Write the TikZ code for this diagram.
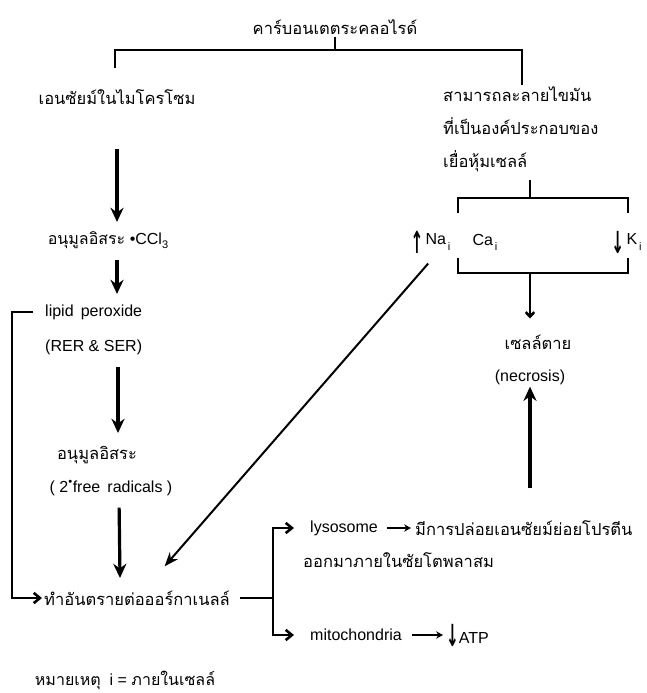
\documentclass[tikz,border=0pt]{standalone}
\usepackage{fontspec}
\setmainfont{Liberation Sans}
\newfontfamily\thaifont[Script=Thai]{Loma}
\newfontfamily\symfont{DejaVu Sans}
\usetikzlibrary{positioning,arrows.meta}

\newcommand{\lowi}{\raisebox{-0.6ex}{\fontsize{11}{12}\selectfont\,i}}
\newcommand{\uparr}{\raisebox{-0.35ex}{\scalebox{0.95}[1.9]{\symfont\bfseries ↑}}}
\newcommand{\dnarr}{\raisebox{-0.35ex}{\scalebox{0.95}[1.9]{\symfont\bfseries ↓}}}

\begin{document}
\begin{tikzpicture}[x=1pt, y=-1pt,
      /tikz/font=\fontsize{16}{19}\selectfont,
      txt/.style={inner sep=2pt},
      th/.style={inner sep=2pt, font=\fontsize{16.5}{19}\selectfont\thaifont},
      ln/.style={line width=2.6pt},
      bigarr/.style={-{Stealth[length=5mm, width=4.6mm]}, line width=3.2pt},
      thinarr/.style={-{Stealth[length=5mm, width=3.8mm]}, line width=2pt},
      hookarr/.style={-{Straight Barb[length=2.2mm, width=3.6mm]}, line width=2.6pt},
      smallarr/.style={-{Stealth[length=2.4mm, width=2.6mm]}, line width=1.6pt},
    ]
    \useasboundingbox (0,0) rectangle (647,693);

    % carbon tetrachloride and its two branches
    \node[th] (ccl4) at (335,27) {คาร์บอนเตตระคลอไรด์};
    \coordinate (barL) at (115,50);
    \coordinate (barR) at (522,50);
    \draw[ln] (ccl4.south) -- (ccl4.south |- barL);
    \draw[ln] (barL) ++(0,18) -- (barL) -- (barR) -- ++(0,35);

    \node[th] (enz) at (117,97) {เอนซัยม์ในไมโครโซม};
    \node[th, anchor=north west, align=left, font=\fontsize{16.5}{33}\selectfont\thaifont]
      (solv) at (441,84) {สามารถละลายไขมัน\\ที่เป็นองค์ประกอบของ\\เยื่อหุ้มเซลล์};

    % microsomal chain on the left
    \node[txt] (ccl3) at (108,240) {{\thaifont อนุมูลอิสระ} •CCl\raisebox{-0.5ex}{\fontsize{11}{12}\selectfont 3}};
    \draw[bigarr, shorten <=42pt] (enz.south -| 117,0) -- (117,222);
    \node[txt, anchor=west] (lipid) at (43,312) {lipid\, peroxide};
    \node[txt, anchor=west] (rer) at (43,347) {(RER \& SER)};
    \draw[bigarr] (ccl3.south -| 117,0) ++(0,9) -- (117,294);
    \node[th] (rad) at (97,455) {อนุมูลอิสระ};
    \node[txt] (free) at (111,488) {( 2\textsuperscript{•}free\, radicals )};
    \draw[bigarr, shorten <=10pt] (rer.south -| 118,0) -- (118,433);
    \draw[bigarr, shorten <=10pt] (free.south -| 119,0) -- (120,578);
    \node[th] (harm) at (137,598) {ทำอันตรายต่อออร์กาเนลล์};

    % feedback from lipid peroxide
    \coordinate (loop) at (12,312);
    \draw[hookarr, shorten <=10pt] (lipid.west) -- (loop) |- (harm.west);

    % membrane, ions and necrosis
    \coordinate (upL) at (458,198);
    \coordinate (upR) at (628,198);
    \draw[ln, shorten <=6pt] (solv.south -| 530,0) -- (530,198);
    \draw[ln] (upL) ++(0,15) -- (upL) -- (upR) -- ++(0,15);
    \node[txt] (na) at (438,242) {Na\lowi};
    \node[txt, left=-2pt of na] (upna) {\uparr};
    \node[txt] (ca) at (485,242) {Ca\lowi};
    \node[txt] (k) at (634,242) {K\lowi};
    \node[txt, left=-2pt of k] (dnk) {\dnarr};
    \coordinate (loL) at (458,273);
    \coordinate (loR) at (628,273);
    \draw[ln] (loL) ++(0,-15) -- (loL) -- (loR) -- ++(0,-15);
    \node[th] (dead) at (538,342) {เซลล์ตาย};
    \node[txt] (necro) at (530,377) {(necrosis)};
    \draw[ln, -{Straight Barb[length=1.6mm, width=3mm]}, shorten >=14pt] (530,273) -- (dead.north -| 530,0);
    \draw[thinarr, shorten <=15pt, shorten >=42pt] (na.south) -- (harm.center);

    % damaged organelles
    \coordinate (fork) at (273,598);
    \node[txt, anchor=west] (lys) at (308,528) {lysosome};
    \node[th, anchor=west] (rel) at (413,528) {มีการปล่อยเอนซัยม์ย่อยโปรตีน};
    \node[th, anchor=west] (cyto) at (301,560) {ออกมาภายในซัยโตพลาสม};
    \node[txt, anchor=west] (mito) at (308,635) {mitochondria};
    \node[txt, anchor=west] (atp) at (444,635) {\dnarr ATP};
    \draw[ln] (harm.east) ++(8,0) -- (fork);
    \draw[hookarr, shorten >=14pt] (fork) |- (lys.west);
    \draw[hookarr, shorten >=14pt] (fork) |- (mito.west);
    \draw[smallarr, shorten <=7pt, shorten >=2pt] (lys) -- (rel);
    \draw[smallarr, shorten <=8pt, shorten >=1pt] (mito) -- (atp);
    \draw[bigarr, shorten <=30pt] (necro |- rel.north) -- (necro.south);

    \node[txt] (note) at (125,680) {{\thaifont หมายเหตุ}\ \ i = {\thaifont ภายในเซลล์}};
  \end{tikzpicture}
\end{document}
